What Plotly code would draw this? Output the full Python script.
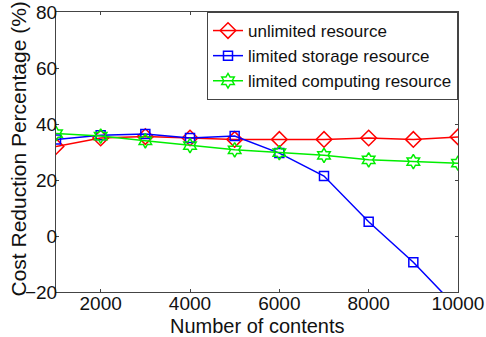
import plotly.graph_objects as go

contents = [1000, 2000, 3000, 4000, 5000, 6000, 7000, 8000, 9000, 10000]
unlimited = [32, 35, 35.5, 35, 34.5, 34.5, 34.5, 35, 34.5, 35.4]
limited_storage = [34.5, 36, 36.4, 35, 35.7, 29.6, 21.4, 5.1, -9.4, -26]
limited_computing = [36.6, 35.7, 34, 32.3, 30.8, 29.8, 28.8, 27.2, 26.6, 26]

series_names = ["unlimited resource", "limited storage resource", "limited computing resource"]
x_ticks = [2000, 4000, 6000, 8000, 10000]
x_tick_labels = ["2000", "4000", "6000", "8000", "10000"]
y_ticks = [-20, 0, 20, 40, 60, 80]
y_tick_labels = ["\u221220", "0", "20", "40", "60", "80"]

fig = go.Figure()
fig.add_trace(go.Scatter(x=contents, y=unlimited, name=series_names[0], mode="lines+markers",
                         line=dict(color="#ff0000", width=1.5),
                         marker=dict(symbol="diamond-open", size=12, color="#ff0000", line=dict(width=1.5))))
fig.add_trace(go.Scatter(x=contents, y=limited_storage, name=series_names[1], mode="lines+markers",
                         line=dict(color="#0000ff", width=1.5),
                         marker=dict(symbol="square-open", size=9, color="#0000ff", line=dict(width=1.5))))
fig.add_trace(go.Scatter(x=contents, y=limited_computing, name=series_names[2], mode="lines+markers",
                         line=dict(color="#00ee00", width=1.5),
                         marker=dict(symbol="hexagram-open", size=11, color="#00ee00", line=dict(width=1.5))))

axis_common = dict(showgrid=False, zeroline=False, showline=True, linecolor="#444444", linewidth=1,
                   mirror="ticks", ticks="inside", ticklen=3, tickcolor="#444444", automargin=False,
                   tickfont=dict(family="Arial", size=19, color="#111111"))

fig.update_layout(
    width=486, height=337,
    margin=dict(l=56, r=28, t=12, b=45),
    paper_bgcolor="white", plot_bgcolor="white",
    font=dict(family="Arial", color="#111111"),
    xaxis=dict(range=[1000, 10000], tickvals=x_ticks, ticktext=x_tick_labels,
               ticklabelstandoff=-6, **axis_common),
    yaxis=dict(range=[-20, 80], tickvals=y_ticks, ticktext=y_tick_labels,
               ticklabelstandoff=-6, **axis_common),
    legend=dict(x=1, y=1, xanchor="right", yanchor="top", bgcolor="white",
                bordercolor="#444444", borderwidth=1, font=dict(size=17, family="Arial"),
                tracegroupgap=0, itemwidth=30),
    showlegend=True,
    annotations=[
        dict(text="Number of contents", xref="paper", yref="paper", x=0.5, y=0, yshift=-21,
             xanchor="center", yanchor="top", showarrow=False, font=dict(size=20, family="Arial")),
        dict(text="Cost Reduction Percentage (%)", xref="paper", yref="paper", x=0, y=0.5,
             xshift=-38.5, yshift=3, xanchor="center", yanchor="middle", textangle=-90,
             showarrow=False, font=dict(size=21, family="Arial")),
    ],
)

fig.write_html("out.html", config={"displayModeBar": False},
               post_script="document.body.style.margin='0';")
